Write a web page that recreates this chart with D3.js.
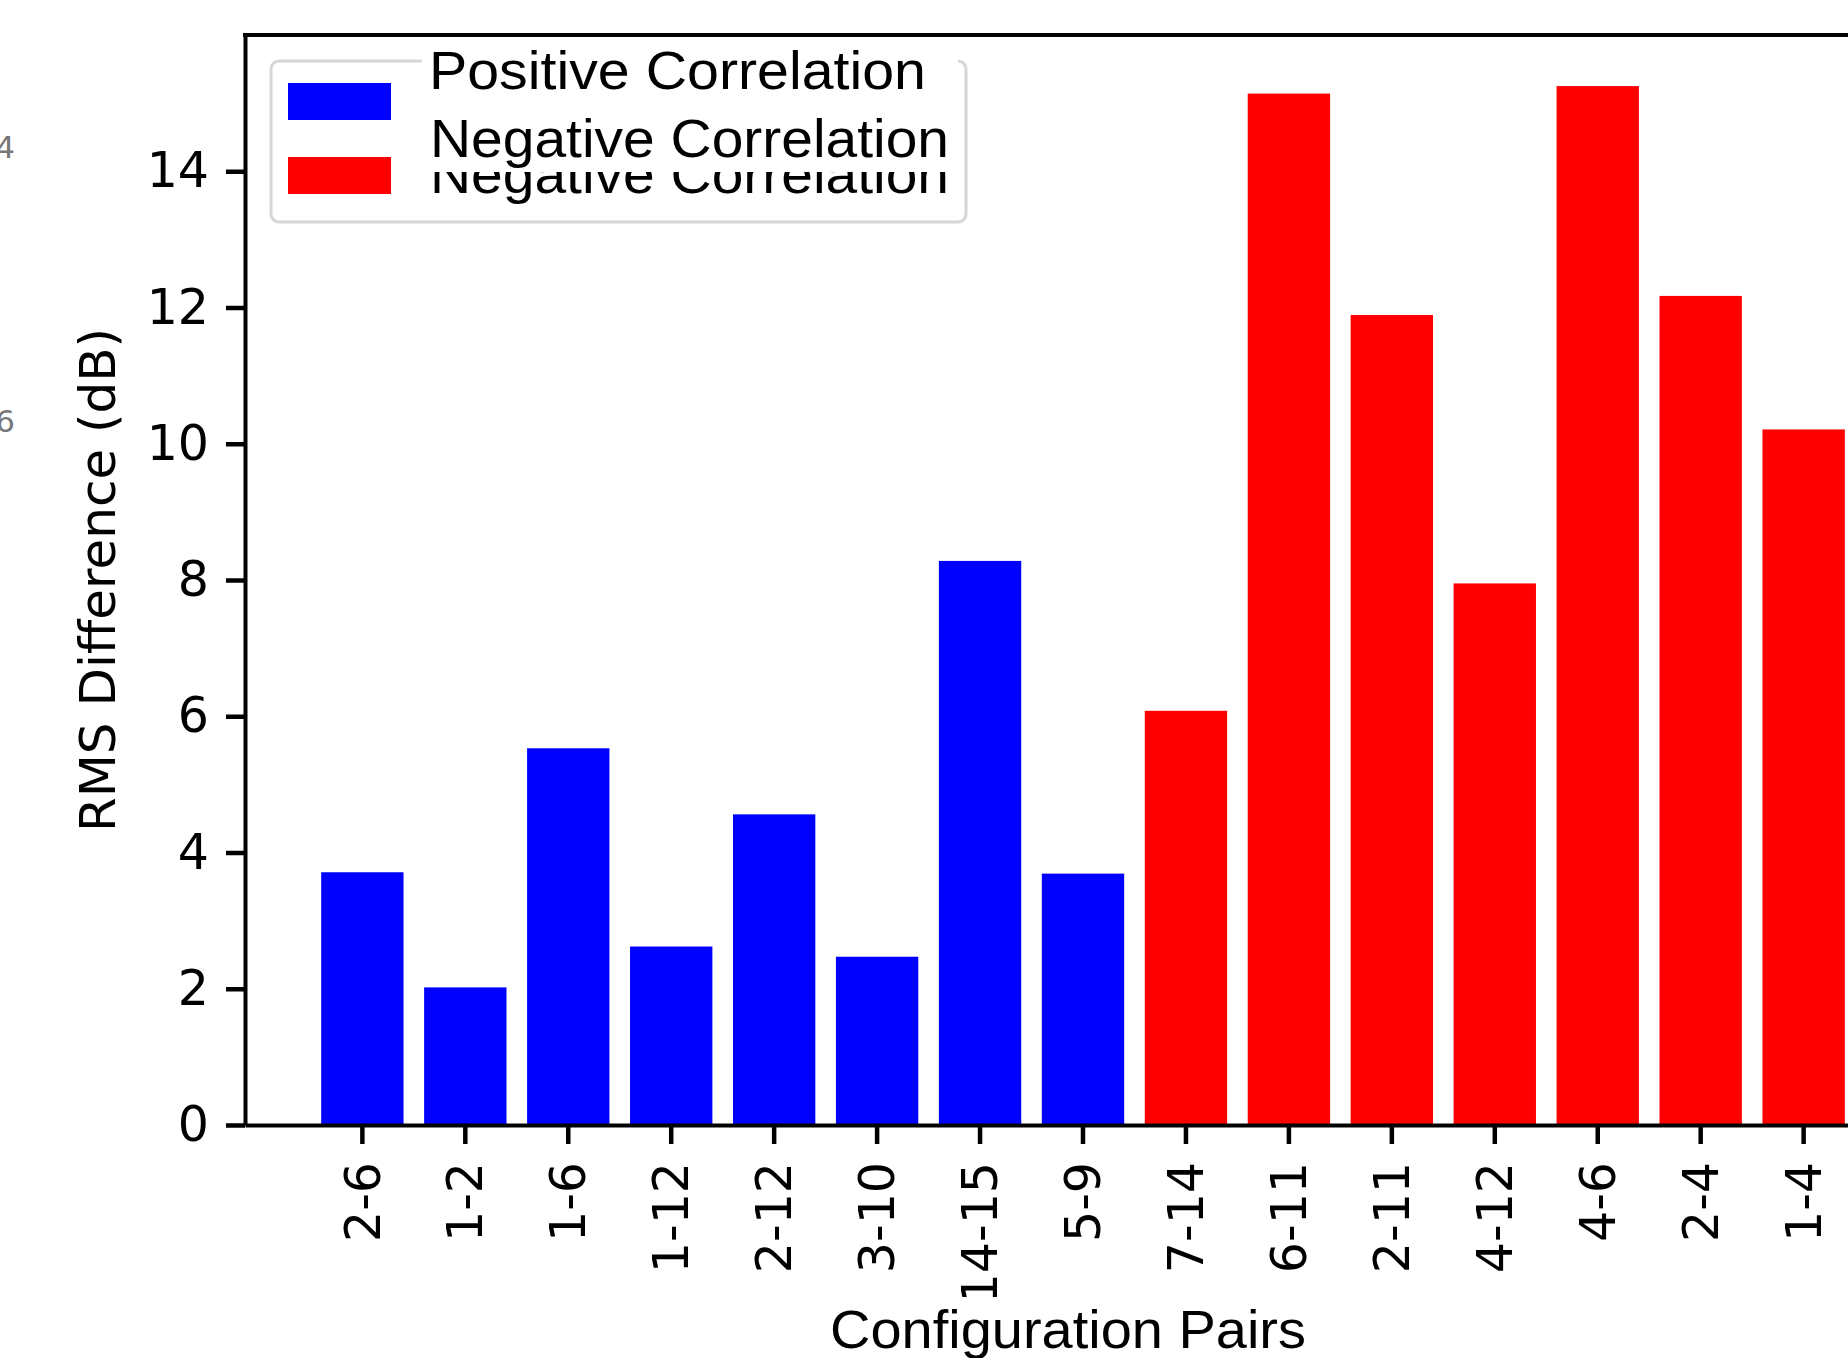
<!DOCTYPE html>
<html>
<head>
<meta charset="utf-8">
<script src="https://cdn.jsdelivr.net/npm/d3@7"></script>
<style>
  body { margin: 0; background: #fff; }
  svg { display: block; }
</style>
</head>
<body>
<div id="chart-container"></div>
<script>
// data
const pairs = ["2-6", "1-2", "1-6", "1-12", "2-12", "3-10", "14-15", "5-9",
               "7-14", "6-11", "2-11", "4-12", "4-6", "2-4", "1-4"];
const rmsDiff = [3.71, 2.02, 5.53, 2.62, 4.56, 2.47, 8.28, 3.69,
                 6.08, 15.14, 11.89, 7.95, 15.25, 12.17, 10.21];
const corrType = ["pos", "pos", "pos", "pos", "pos", "pos", "pos", "pos",
                  "neg", "neg", "neg", "neg", "neg", "neg", "neg"];
const yTicks = [0, 2, 4, 6, 8, 10, 12, 14];
const legendLabels = ["Positive Correlation", "Negative Correlation"];
const colors = { pos: "#0000ff", neg: "#ff0000" };

const W = 1848, H = 1358;
// plot box (right spine falls outside the picture, as in the original)
const box = { left: 245, right: 1921, top: 35, bottom: 1125 };

const svg = d3.select("#chart-container")
  .append("svg")
    .attr("width", W)
    .attr("height", H);

// scales
const x = d3.scaleBand()
  .domain(pairs)
  .range([box.left, box.right])
  .paddingInner(0.2)
  .paddingOuter(0.74);

const y = d3.scaleLinear()
  .domain([0, 16])
  .range([box.bottom, box.top]);

// bars
svg.append("g")
  .selectAll("rect")
  .data(pairs)
  .join("rect")
    .attr("x", d => x(d))
    .attr("width", x.bandwidth())
    .attr("y", (d, i) => y(rmsDiff[i]))
    .attr("height", (d, i) => y(0) - y(rmsDiff[i]))
    .attr("fill", (d, i) => colors[corrType[i]]);

// y axis
const yAxis = svg.append("g")
  .attr("transform", `translate(${box.left},0)`)
  .call(d3.axisLeft(y).tickValues(yTicks).tickSize(19).tickSizeOuter(0).tickPadding(17));
yAxis.select(".domain").attr("stroke-width", 4);
yAxis.selectAll(".tick line").attr("stroke-width", 4.5);
yAxis.selectAll(".tick text")
  .style("font-family", "DejaVu Sans")
  .style("font-size", "49px")
  .attr("fill", "#000");

// x axis
const xAxis = svg.append("g")
  .attr("transform", `translate(0,${box.bottom})`)
  .call(d3.axisBottom(x).tickSize(19).tickSizeOuter(0));
xAxis.select(".domain").attr("stroke-width", 4);
xAxis.selectAll(".tick line").attr("stroke-width", 4.5);
xAxis.selectAll(".tick text")
  .attr("transform", "rotate(-90)")
  .attr("x", -37)
  .attr("y", 0)
  .attr("dy", "0.35em")
  .attr("text-anchor", "end")
  .attr("fill", "#000")
  .style("font-family", "DejaVu Sans")
  .style("font-size", "49px");

// top spine
svg.append("line")
  .attr("x1", box.left - 2).attr("x2", box.right)
  .attr("y1", box.top).attr("y2", box.top)
  .attr("stroke", "#000")
  .attr("stroke-width", 4);

// y label
svg.append("text")
  .attr("transform", `translate(115,${(box.top + box.bottom) / 2}) rotate(-90)`)
  .attr("text-anchor", "middle")
  .style("font-family", "DejaVu Sans")
  .style("font-size", "50px")
  .text("RMS Difference (dB)");

// legend frame + patches
const legend = svg.append("g");
legend.append("rect")
  .attr("x", 271).attr("y", 61)
  .attr("width", 695).attr("height", 161)
  .attr("rx", 8)
  .attr("fill", "#fff")
  .attr("stroke", "#d6d6d6")
  .attr("stroke-width", 3);

legend.selectAll(".patch")
  .data(legendLabels)
  .join("rect")
    .attr("class", "patch")
    .attr("x", 288)
    .attr("y", (d, i) => 83 + i * 74)
    .attr("width", 103)
    .attr("height", 37)
    .attr("fill", (d, i) => i === 0 ? colors.pos : colors.neg);

// original label peeking out under the pasted text
legend.append("text")
  .attr("x", 430).attr("y", 193)
  .attr("textLength", 519)
  .attr("lengthAdjust", "spacingAndGlyphs")
  .style("font-family", "Liberation Sans")
  .style("font-size", "53px")
  .text(legendLabels[1]);

// pasted white patch with relabelled text
legend.append("rect")
  .attr("x", 422).attr("y", 38)
  .attr("width", 536).attr("height", 134)
  .attr("fill", "#fff");

const legendLen = [497, 519];
legend.selectAll(".lbl")
  .data(legendLabels)
  .join("text")
    .attr("class", "lbl")
    .attr("x", (d, i) => 429 + i)
    .attr("y", (d, i) => 89 + i * 68)
    .attr("textLength", (d, i) => legendLen[i])
    .attr("lengthAdjust", "spacingAndGlyphs")
    .style("font-family", "Liberation Sans")
    .style("font-size", "53px")
    .text(d => d);

// x label on its own white patch
svg.append("rect")
  .attr("x", 800).attr("y", 1297)
  .attr("width", 540).attr("height", 61)
  .attr("fill", "#fff");
svg.append("text")
  .attr("x", 830).attr("y", 1348)
  .attr("textLength", 476)
  .attr("lengthAdjust", "spacingAndGlyphs")
  .style("font-family", "Liberation Sans")
  .style("font-size", "53px")
  .text("Configuration Pairs");

// scraps of a neighbouring figure at the left edge
svg.append("text")
  .attr("x", 15).attr("y", 158)
  .attr("text-anchor", "end")
  .attr("fill", "#777")
  .style("font-family", "DejaVu Sans")
  .style("font-size", "31px")
  .text("4");
svg.append("text")
  .attr("x", 15).attr("y", 432)
  .attr("text-anchor", "end")
  .attr("fill", "#777")
  .style("font-family", "DejaVu Sans")
  .style("font-size", "31px")
  .text("6");
</script>
</body>
</html>
